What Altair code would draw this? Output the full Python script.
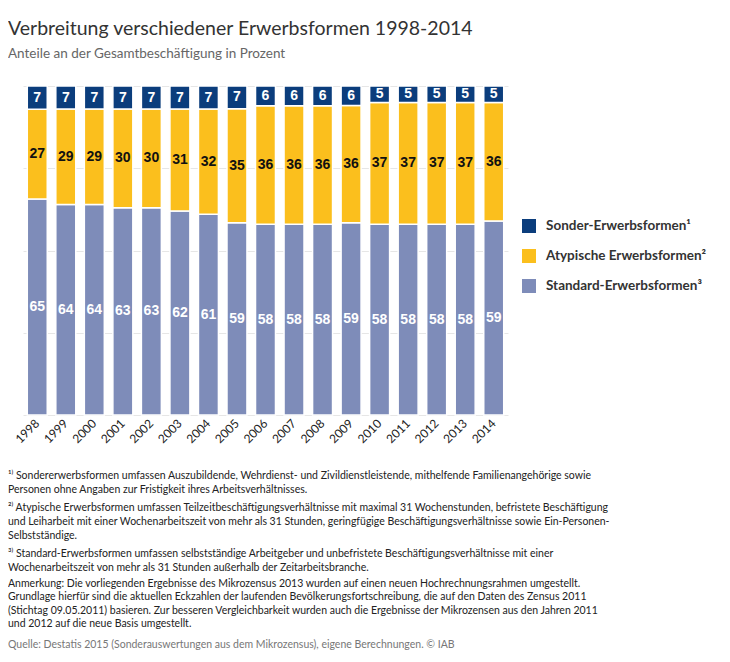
import altair as alt
import pandas as pd

years = [str(y) for y in range(1998, 2015)]
sonder = [7, 7, 7, 7, 7, 7, 7, 7, 6, 6, 6, 6, 5, 5, 5, 5, 5]
atyp = [27, 29, 29, 30, 30, 31, 32, 35, 36, 36, 36, 36, 37, 37, 37, 37, 36]
standard = [65, 64, 64, 63, 63, 62, 61, 59, 58, 58, 58, 59, 58, 58, 58, 58, 59]

cat_sonder = "Sonder-Erwerbsformen¹"
cat_atyp = "Atypische Erwerbsformen²"
cat_standard = "Standard-Erwerbsformen³"
categories = [cat_sonder, cat_atyp, cat_standard]
colors = ["#0b3d7c", "#fbbf1d", "#7e8cb9"]

title_text = "Verbreitung verschiedener Erwerbsformen 1998-2014"
subtitle_text = "Anteile an der Gesamtbeschäftigung  in Prozent"
note1 = ["¹⁾ Sondererwerbsformen umfassen Auszubildende, Wehrdienst- und Zivildienstleistende, mithelfende Familienangehörige sowie",
         "Personen ohne Angaben zur Fristigkeit ihres Arbeitsverhältnisses."]
note2 = ["²⁾ Atypische Erwerbsformen umfassen Teilzeitbeschäftigungsverhältnisse mit maximal 31 Wochenstunden, befristete Beschäftigung",
         "und Leiharbeit mit einer Wochenarbeitszeit von mehr als 31 Stunden, geringfügige Beschäftigungsverhältnisse sowie Ein-Personen-",
         "Selbstständige."]
note3 = ["³⁾ Standard-Erwerbsformen umfassen selbstständige Arbeitgeber und unbefristete Beschäftigungsverhältnisse mit einer",
         "Wochenarbeitszeit von mehr als 31 Stunden außerhalb der Zeitarbeitsbranche."]
note4 = ["Anmerkung: Die vorliegenden Ergebnisse des Mikrozensus 2013 wurden auf einen neuen Hochrechnungsrahmen umgestellt.",
         "Grundlage hierfür sind die aktuellen Eckzahlen der laufenden Bevölkerungsfortschreibung, die auf den Daten des Zensus 2011",
         "(Stichtag 09.05.2011) basieren. Zur besseren Vergleichbarkeit  wurden auch die Ergebnisse der Mikrozensen aus den Jahren 2011",
         "und 2012 auf die neue Basis umgestellt."]
source = "Quelle: Destatis 2015 (Sonderauswertungen aus dem Mikrozensus), eigene Berechnungen.  © IAB"

rows = []
for i, yr in enumerate(years):
    rows.append({"year": yr, "cat": cat_standard, "value": standard[i], "order": 0})
    rows.append({"year": yr, "cat": cat_atyp, "value": atyp[i], "order": 1})
    rows.append({"year": yr, "cat": cat_sonder, "value": sonder[i], "order": 2})
df = pd.DataFrame(rows)

yscale = alt.Scale(domain=[0, 1], nice=False, zero=True)
xenc = alt.X("year:N", title=None, sort=years,
             scale=alt.Scale(paddingInner=0.3, paddingOuter=0.15),
             axis=alt.Axis(labelAngle=-45, domain=False, ticks=False, grid=False,
                           labelFont="Lato", labelFontSize=12, labelColor="#222",
                           labelPadding=6, labelAlign="right", labelBaseline="middle"))

bars = alt.Chart(df).mark_bar(stroke="white", strokeWidth=1.5).encode(
    x=xenc,
    y=alt.Y("value:Q", stack="normalize", scale=yscale, title=None,
            axis=alt.Axis(values=[0, 0.25, 0.5, 0.75, 1], labels=False, ticks=False,
                          domain=False, gridColor="#e6e6e6", gridWidth=1)),
    color=alt.Color("cat:N", scale=alt.Scale(domain=categories, range=colors),
                    legend=alt.Legend(title=None, orient="none", legendX=499, legendY=133,
                                      symbolType="square", symbolSize=196, symbolStrokeWidth=0,
                                      labelFont="Lato", labelFontSize=13.5, labelFontWeight="bold",
                                      labelColor="#333", labelOffset=10, rowPadding=16,
                                      padding=0, labelLimit=300)),
    order=alt.Order("order:Q", sort="ascending"),
)

labels = alt.Chart(df).transform_joinaggregate(
    total="sum(value)", groupby=["year"]
).transform_window(
    cum="sum(value)", groupby=["year"], sort=[alt.SortField("order")], frame=[None, 0]
).transform_calculate(
    mid="(datum.cum - datum.value / 2) / datum.total"
).mark_text(font="Liberation Sans", fontSize=14, fontWeight="bold", baseline="middle").encode(
    x=alt.X("year:N", sort=years),
    y=alt.Y("mid:Q", scale=yscale),
    text=alt.Text("value:Q"),
    color=alt.condition(alt.datum.cat == cat_atyp, alt.value("#111"), alt.value("white")),
)

one = pd.DataFrame({"a": [0]})


def txt(lines, y, size, color, font="Lato", lh=14):
    return alt.Chart(one).mark_text(
        text=lines, align="left", baseline="alphabetic", font=font, fontSize=size,
        color=color, lineHeight=lh
    ).encode(x=alt.value(-15), y=alt.value(y))


title = txt(title_text, -51, 19.5, "#333")
subtitle = txt(subtitle_text, -28, 13.5, "#666")
n1 = txt(note1, 392.5, 10.5, "#222")
n2 = txt(note2, 424.5, 10.5, "#222")
n3 = txt(note3, 470.5, 10.5, "#222")
n4 = txt(note4, 500.5, 10.5, "#222", lh=13.5)
src = txt(source, 562, 10.5, "#777")

chart = alt.layer(bars, labels, title, subtitle, n1, n2, n3, n4, src).properties(
    width=485, height=329,
    padding={"left": 15, "top": 78, "right": 214, "bottom": 239},
    autosize=alt.AutoSizeParams(type="none"),
).configure_view(stroke=None)

chart.save("out.html", embed_options={"renderer": "svg", "actions": False})
